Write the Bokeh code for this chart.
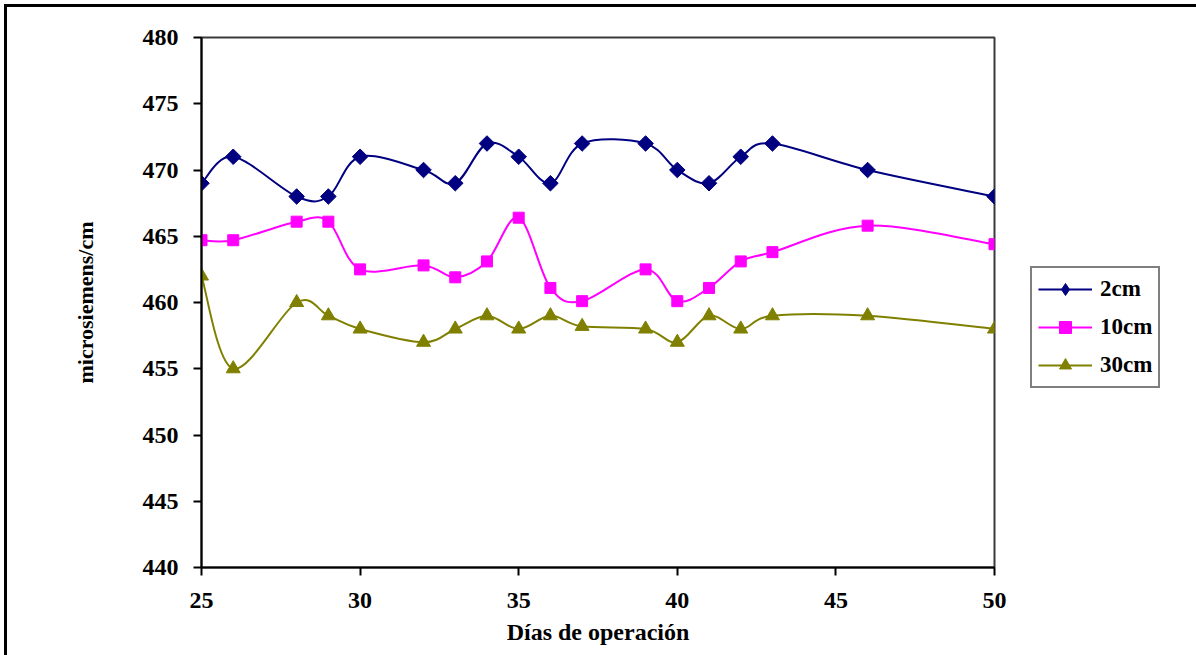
import math
from bokeh.plotting import figure
from bokeh.models import ColumnDataSource, Legend, LegendItem, Range1d, FixedTicker
from bokeh.embed import file_html
from bokeh.resources import INLINE

# ---- data ----
days = [25, 26, 28, 29, 30, 32, 33, 34, 35, 36, 37, 39, 40, 41, 42, 43, 46, 50]
s_2cm = [469, 471, 468, 468, 471, 470, 469, 472, 471, 469, 472, 472, 470, 469, 471, 472, 470, 468]
s_10cm = [464.7, 464.7, 466.1, 466.1, 462.5, 462.8, 461.9, 463.1, 466.4, 461.1, 460.1,
          462.5, 460.1, 461.1, 463.1, 463.8, 465.8, 464.4]
s_30cm = [462, 455, 460, 459, 458, 457, 458, 459, 458, 459, 458.2, 458, 457, 459, 458, 459, 459, 458]
series_names = ["2cm", "10cm", "30cm"]
x_ticks = [25, 30, 35, 40, 45, 50]
y_ticks = [440, 445, 450, 455, 460, 465, 470, 475, 480]

FONT = "Liberation Serif"


def smooth_segments(xs, ys, k=1.0 / 6.0):
    """Catmull-Rom style bezier control points (Excel 'smoothed line')."""
    n = len(xs)
    d = dict(x0=[], y0=[], x1=[], y1=[], cx0=[], cy0=[], cx1=[], cy1=[])
    for i in range(n - 1):
        a = max(i - 1, 0)
        b = min(i + 2, n - 1)
        d["x0"].append(xs[i]); d["y0"].append(ys[i])
        d["x1"].append(xs[i + 1]); d["y1"].append(ys[i + 1])
        d["cx0"].append(xs[i] + (xs[i + 1] - xs[a]) * k)
        d["cy0"].append(ys[i] + (ys[i + 1] - ys[a]) * k)
        d["cx1"].append(xs[i + 1] - (xs[b] - xs[i]) * k)
        d["cy1"].append(ys[i + 1] - (ys[b] - ys[i]) * k)
    return d


p = figure(frame_width=793, frame_height=530,
           x_range=Range1d(25, 50), y_range=Range1d(440, 480),
           output_backend="svg", toolbar_location=None,
           min_border_left=194, min_border_right=195,
           min_border_top=30, min_border_bottom=88)
p.styles = {"border-left": "3px solid black", "border-top": "3px solid black",
            "margin-left": "4px", "margin-top": "4px"}

p.background_fill_color = "white"
p.border_fill_color = "white"
p.outline_line_color = "#3a3a3a"
p.outline_line_width = 2
p.xgrid.grid_line_color = None
p.ygrid.grid_line_color = None

for ax in (p.xaxis[0], p.yaxis[0]):
    ax.axis_line_color = "black"
    ax.axis_line_width = 2
    ax.major_tick_line_color = "black"
    ax.major_tick_line_width = 2
    ax.major_tick_out = 8
    ax.major_tick_in = 0
    ax.minor_tick_line_color = None
    ax.major_label_text_font = FONT
    ax.major_label_text_font_style = "bold"
    ax.major_label_text_font_size = "24px"
    ax.major_label_text_color = "black"
    ax.axis_label_text_font = FONT
    ax.axis_label_text_font_style = "bold"
    ax.axis_label_text_color = "black"

p.xaxis[0].axis_label_text_font_size = "24px"
p.yaxis[0].axis_label_text_font_size = "22px"
p.xaxis[0].ticker = FixedTicker(ticks=x_ticks)
p.yaxis[0].ticker = FixedTicker(ticks=y_ticks)
p.xaxis[0].axis_label = "Días de operación"
p.yaxis[0].axis_label = "microsiemens/cm"
p.xaxis[0].major_label_standoff = 17
p.xaxis[0].axis_label_standoff = 8
p.yaxis[0].major_label_standoff = 15
p.yaxis[0].axis_label_standoff = 42

colors = ["#000080", "#FF00FF", "#808000"]
markers = ["square", "square", "triangle"]
legend_markers = ["diamond", "square", "triangle"]
angles = [math.pi / 4, 0.0, 0.0]
sizes = [11, 11, 14]
all_series = [s_2cm, s_10cm, s_30cm]

items = []
for name, vals, col, mk, lmk, ang, sz in zip(series_names, all_series, colors, markers,
                                             legend_markers, angles, sizes):
    seg = ColumnDataSource(smooth_segments(days, vals))
    p.bezier(x0="x0", y0="y0", x1="x1", y1="y1", cx0="cx0", cy0="cy0",
             cx1="cx1", cy1="cy1", source=seg, line_color=col, line_width=2)
    p.scatter(x=days, y=vals, marker=mk, size=sz, angle=ang,
              fill_color=col, line_color=col)
    # legend-only renderers (NaN values draw nothing in the plot area)
    nan_vals = [float("nan")] * len(days)
    leg_line = p.line(x=days, y=nan_vals, line_color=col, line_width=2)
    leg_pt = p.scatter(x=days, y=nan_vals, marker=lmk, size=sz,
                       fill_color=col, line_color=col)
    items.append(LegendItem(label=name, renderers=[leg_line, leg_pt]))

legend = Legend(items=items, location=(36, 179))
legend.border_line_color = "black"
legend.border_line_width = 2
legend.background_fill_color = "white"
legend.background_fill_alpha = 1
legend.label_text_font = FONT
legend.label_text_font_style = "bold"
legend.label_text_font_size = "23px"
legend.label_text_color = "black"
legend.glyph_width = 54
legend.glyph_height = 30
legend.label_height = 30
legend.label_standoff = 8
legend.spacing = 8
legend.padding = 6
legend.margin = 0
p.add_layout(legend, "right")

open("out.html", "w").write(file_html(p, INLINE))
